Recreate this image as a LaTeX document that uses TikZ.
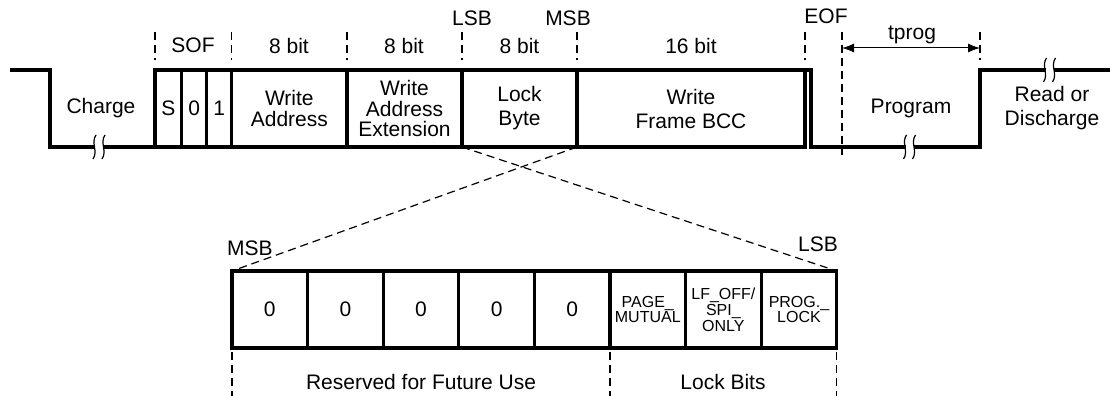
\documentclass[tikz,border=0pt]{standalone}
\usepackage{fontspec}
\setmainfont{Liberation Sans}
\usetikzlibrary{positioning,arrows.meta}
\begin{document}
\begin{tikzpicture}
  [x=1pt,y=-1pt,
  every node/.style={font=\fontsize{21}{24}\selectfont,inner sep=0pt,outer sep=0pt},
  field/.style={draw,line width=3.3pt,minimum height=77pt,align=center},
  bitcell/.style={field,minimum width=75.6pt},
  small/.style={font=\fontsize{16}{15.8}\selectfont},
  tight/.style={font=\fontsize{21}{20.5}\selectfont},
  wave/.style={line width=3.3pt},
  tick/.style={line width=1.2pt,dash pattern=on 8pt off 5pt},
  brk/.style={line width=1.2pt}]
  \useasboundingbox (0,0) rectangle (1112,396);
  % frame fields
  \node[field,minimum width=26.7pt,anchor=north west] (s) at (155,70) {S};
  \node[field,minimum width=25pt,right=0pt of s] (zero) {0};
  \node[field,minimum width=25pt,right=0pt of zero] (one) {1};
  \node[field,tight,minimum width=115.3pt,right=0pt of one] (wa) {Write\\Address};
  \node[field,tight,minimum width=115pt,right=0pt of wa] (wae) {Write\\Address\\Extension};
  \node[field,minimum width=115pt,right=0pt of wae] (lock) {Lock\\Byte};
  \node[field,minimum width=228pt,right=0pt of lock] (bcc) {Write\\Frame BCC};
  % waveform
  \coordinate (w0) at (10,70);
  \coordinate (w1) at (50,70);
  \coordinate (p0) at (811,70);
  \coordinate (p1) at (980,70);
  \coordinate (w9) at (1110,70);
  \draw[wave] (w0) -- (w1) |- (s.south west);
  \draw[wave] (bcc.north east) -- (p0) |- (bcc.south east -| p1) -- (p1) -- (w9);
  \node (charge) at (101,108) {Charge};
  \node (prog) at (911,108) {Program};
  \node[align=center] (rd) at (1052,108) {Read or\\Discharge};
  % markers
  \coordinate (tt) at (0,32);
  \coordinate (tb) at (0,60);
  \foreach \n in {s,wa,wae,lock,bcc}
    \draw[tick] (\n.north west |- tt) -- (\n.north west |- tb);
  \draw[tick] (bcc.north east |- tt) -- (bcc.north east |- tb);
  \coordinate (tp0) at (842,32);
  \coordinate (tp0b) at (842,155);
  \coordinate (tp1) at (980,32);
  \draw[tick] (tp0) -- (tp0b);
  \draw[tick] (tp1) -- (tp1 |- tb);
  \coordinate (ta0) at (842,48);
  \coordinate (ta1) at (980,48);
  \draw[{Latex[length=12pt,width=9pt]}-{Latex[length=12pt,width=9pt]},line width=1pt] (ta0) -- (ta1);
  \node[anchor=base] (sof) at (193,52.7) {SOF};
  \node[anchor=base] (nwa) at (289,53.3) {8 bit};
  \node[anchor=base] (nwae) at (404,53.3) {8 bit};
  \node[anchor=base] (nlock) at (519.5,53.3) {8 bit};
  \node[anchor=base] (nbcc) at (691,53.3) {16 bit};
  \node[anchor=base] (lsb) at (472,26) {LSB};
  \node[anchor=base] (msb) at (568,26) {MSB};
  \node[anchor=base] (eof) at (826,23.3) {EOF};
  \node[anchor=base] (tprog) at (912,40) {tprog};
  % lock byte bits
  \node[bitcell,anchor=north west] (b1) at (232,271) {0};
  \foreach \i [count=\j] in {2,...,5}
    \node[bitcell,right=0pt of b\j] (b\i) {0};
  \node[bitcell,small,right=0pt of b5] (b6) {PAGE\_\\MUTUAL};
  \node[bitcell,small,right=0pt of b6] (b7) {LF\_OFF/\\SPI\_\\ONLY};
  \node[bitcell,small,right=0pt of b7] (b8) {PROG.\_\\LOCK};
  \draw[tick] (lock.south west) -- (b8.north east);
  \draw[tick] (lock.south east) -- (b1.north west);
  \node[anchor=base] (bmsb) at (250,255) {MSB};
  \node[anchor=base] (blsb) at (818,251.7) {LSB};
  \coordinate (lt) at (0,352);
  \coordinate (lb) at (0,396);
  \foreach \n in {b1.south west,b6.south west,b8.south east}
    \draw[tick] (\n |- lt) -- (\n |- lb);
  \node[anchor=base] (rfu) at (421,389) {Reserved for Future Use};
  \node[anchor=base] (lbits) at (723,389) {Lock Bits};
  % breaks
  \foreach \bx/\by in {99/147,909.5/147,1049.5/70} {
    \fill[white] ({\bx-4},{\by-3}) rectangle ({\bx+4},{\by+3});
    \foreach \sx in {-4.5,4.5}
      \draw[brk] ({\bx+\sx+1.5},{\by-12}) .. controls ({\bx+\sx-4},{\by-4}) and ({\bx+\sx+4},{\by+4}) .. ({\bx+\sx-1.5},{\by+12});
  }
\end{tikzpicture}
\end{document}
